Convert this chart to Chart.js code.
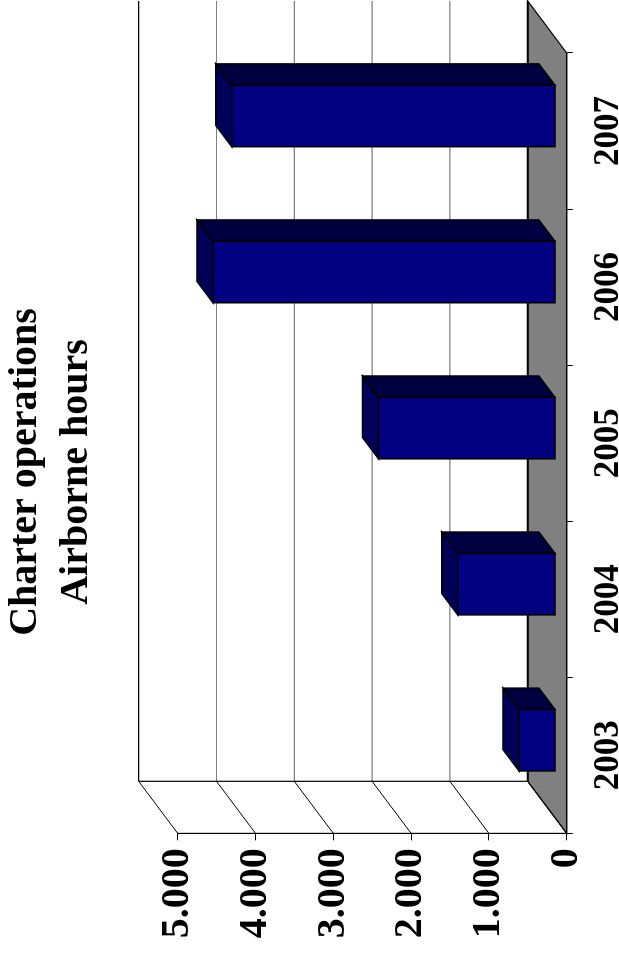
<!DOCTYPE html>
<html>
<head>
<meta charset="utf-8">
<script src="https://cdn.jsdelivr.net/npm/chart.js@4/dist/chart.umd.min.js"></script>
<style>
  html, body { margin: 0; padding: 0; background: #fff; overflow: hidden; }
  /* the whole chart is printed sideways */
  #wrap {
    position: absolute; left: 0; top: 0;
    width: 958px; height: 619px;
    transform-origin: 0 0;
    transform: translateY(958px) rotate(-90deg);
  }
</style>
</head>
<body>
<div id="wrap"><canvas id="chart" width="958" height="619"></canvas></div>
<script>
const years = ['2003', '2004', '2005', '2006', '2007'];
const airborneHours = [467, 1255, 2275, 4400, 4160];
const valueTicks = ['0', '1.000', '2.000', '3.000', '4.000', '5.000'];
const titleLines = ['Charter operations', 'Airborne hours'];

const SERIF = "'Liberation Serif', 'Times New Roman', serif";

// depth of the fake 3d box (floor / walls), bars sit in the middle of it
const DEPTH = { x: 52, y: -39 };
const BAR_FRONT = 0.29;
const BAR_DEPTH = 0.41;

const box3d = {
  id: 'box3d',
  beforeDraw(chart) {
    const { ctx, chartArea: a, scales: { y } } = chart;
    const dx = DEPTH.x, dy = DEPTH.y;
    ctx.save();

    // back wall
    ctx.fillStyle = '#ffffff';
    ctx.fillRect(a.left + dx, a.top + dy, a.right - a.left, a.bottom - a.top);

    // floor
    ctx.beginPath();
    ctx.moveTo(a.left, a.bottom);
    ctx.lineTo(a.right, a.bottom);
    ctx.lineTo(a.right + dx, a.bottom + dy);
    ctx.lineTo(a.left + dx, a.bottom + dy);
    ctx.closePath();
    ctx.fillStyle = '#808080';
    ctx.fill();
    ctx.strokeStyle = '#000';
    ctx.lineWidth = 1.2;
    ctx.stroke();

    // grid on back wall + diagonals on left wall
    y.ticks.forEach(t => {
      const py = y.getPixelForValue(t.value);
      const back = py + dy;
      ctx.beginPath();
      ctx.strokeStyle = t.value === 0 || t.value === y.max ? '#000' : '#808080';
      ctx.lineWidth = t.value === 0 ? 2 : 1.2;
      ctx.moveTo(a.left + dx, back);
      ctx.lineTo(a.right + dx, back);
      ctx.stroke();

      ctx.beginPath();
      ctx.strokeStyle = '#000';
      ctx.lineWidth = 1;
      ctx.moveTo(a.left, py);
      ctx.lineTo(a.left + dx, back);
      ctx.stroke();
    });

    // left edge of back wall
    ctx.beginPath();
    ctx.strokeStyle = '#000';
    ctx.lineWidth = 1.2;
    ctx.moveTo(a.left + dx, a.top + dy);
    ctx.lineTo(a.left + dx, a.bottom + dy);
    ctx.stroke();
    ctx.restore();
  },
  afterDatasetsDraw(chart) {
    const { ctx } = chart;
    const meta = chart.getDatasetMeta(0);
    const fx = DEPTH.x * BAR_FRONT, fy = DEPTH.y * BAR_FRONT;
    const ddx = DEPTH.x * BAR_DEPTH, ddy = DEPTH.y * BAR_DEPTH;
    ctx.save();
    ctx.strokeStyle = '#000';
    ctx.lineWidth = 1.5;
    ctx.lineJoin = 'miter';
    meta.data.forEach(bar => {
      const p = bar.getProps(['x', 'y', 'base', 'width'], true);
      const x0 = p.x - p.width / 2 + fx, x1 = p.x + p.width / 2 + fx;
      const top = p.y + fy, bot = p.base + fy;

      const face = (pts, color) => {
        ctx.beginPath();
        ctx.moveTo(pts[0][0], pts[0][1]);
        for (let i = 1; i < pts.length; i++) ctx.lineTo(pts[i][0], pts[i][1]);
        ctx.closePath();
        ctx.fillStyle = color;
        ctx.fill();
        ctx.stroke();
      };
      // top
      face([[x0, top], [x1, top], [x1 + ddx, top + ddy], [x0 + ddx, top + ddy]], '#00005a');
      // side
      face([[x1, top], [x1 + ddx, top + ddy], [x1 + ddx, bot + ddy], [x1, bot]], '#000040');
      // front
      face([[x0, top], [x1, top], [x1, bot], [x0, bot]], '#000080');
    });
    ctx.restore();
  }
};

new Chart(document.getElementById('chart'), {
  type: 'bar',
  data: {
    labels: years,
    datasets: [{
      label: 'Airborne hours',
      data: airborneHours,
      backgroundColor: 'rgba(0,0,0,0)',
      borderWidth: 0,
      categoryPercentage: 1,
      barPercentage: 0.394
    }]
  },
  options: {
    responsive: false,
    devicePixelRatio: 1,
    animation: false,
    // title is a bit off-centre in the original, hence the odd padding
    layout: { padding: { left: 0, right: -14, top: 0, bottom: 0 } },
    plugins: {
      legend: { display: false },
      tooltip: { enabled: false },
      title: {
        display: true,
        text: titleLines,
        color: '#000',
        font: { family: SERIF, size: 40, weight: 'bold', lineHeight: 1.275 },
        padding: { top: 0, bottom: 75.7 }
      }
    },
    scales: {
      x: {
        grid: { offset: true, drawOnChartArea: false, drawTicks: true, tickLength: 6, color: '#000', lineWidth: 1 },
        border: { display: true, color: '#000', width: 1.2 },
        ticks: { color: '#000', padding: 15, maxRotation: 0, font: { family: SERIF, size: 35, weight: 'bold' } },
        afterFit(scale) { scale.height = 52.3; }
      },
      y: {
        min: 0,
        max: 5000,
        grid: { drawOnChartArea: false, drawTicks: true, tickLength: 7, color: '#000', lineWidth: 1 },
        border: { display: true, color: '#000', width: 1.2 },
        ticks: {
          stepSize: 1000,
          color: '#000',
          padding: 8,
          font: { family: SERIF, size: 40, weight: 'bold' },
          callback: (value, index) => valueTicks[index]
        },
        afterFit(scale) { scale.width = 124.7; }
      },
      // empty spacer on the right, keeps room for the 3d depth
      spacer: {
        type: 'linear',
        position: 'right',
        grid: { display: false },
        border: { display: false },
        ticks: { display: false },
        afterFit(scale) { scale.width = 67; }
      }
    }
  },
  plugins: [box3d]
});
</script>
</body>
</html>
